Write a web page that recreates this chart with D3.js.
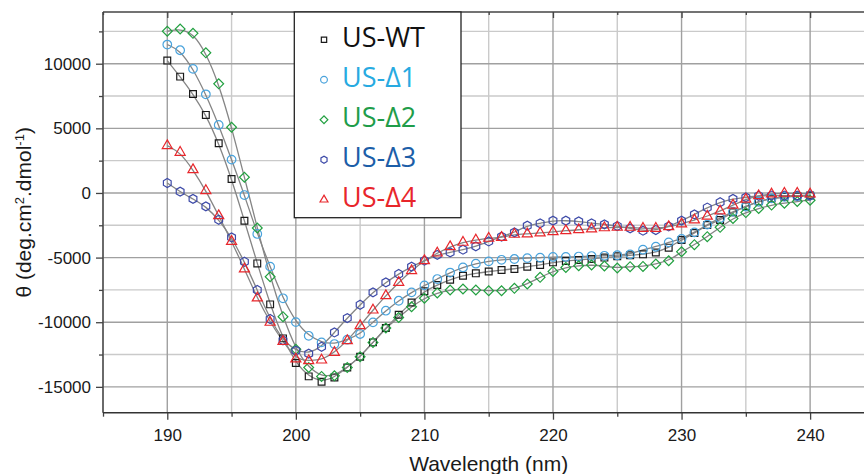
<!DOCTYPE html>
<html lang="en">
<head>
    <meta charset="UTF-8">
    <title>CD spectra</title>
    <script src="https://d3js.org/d3.v7.min.js"></script>
    <style>
        body { margin: 0; background: #fff; }
        svg { display: block; }
        .tick text { font-family: "Liberation Sans", Arial, sans-serif; font-size: 17px; fill: #1a1a1a; }
        .label { font-family: "Liberation Sans", Arial, sans-serif; font-size: 21px; fill: #1a1a1a; }
        .legend text { font-family: "Open Sans", "Noto Sans", sans-serif; font-size: 27px; }
    </style>
</head>
<body>
<svg width="864" height="474"></svg>
<script>
    // wavelength (nm) and ellipticity readings for each construct
    const wavelength = [190, 191, 192, 193, 194, 195, 196, 197, 198, 199,
        200, 201, 202, 203, 204, 205, 206, 207, 208, 209,
        210, 211, 212, 213, 214, 215, 216, 217, 218, 219,
        220, 221, 222, 223, 224, 225, 226, 227, 228, 229,
        230, 231, 232, 233, 234, 235, 236, 237, 238, 239, 240];

    const usWT = [10240, 9000, 7660, 6040, 3840, 1080, -2150, -5450, -8620, -11250,
        -13160, -14190, -14600, -14270, -13500, -12670, -11560, -10450, -9420, -8470,
        -7600, -7120, -6710, -6400, -6220, -6070, -5960, -5880, -5700, -5570,
        -5370, -5260, -5190, -5110, -5000, -4900, -4820, -4750, -4600, -4230,
        -3640, -3100, -2480, -2090, -1500, -1030, -650, -420, -300, -250, -200];

    const usD1 = [11480, 11040, 9600, 7630, 5260, 2580, -160, -3170, -5700, -8150,
        -9990, -11050, -11560, -11690, -11350, -10910, -10010, -9110, -8340, -7690,
        -7150, -6660, -6160, -5760, -5470, -5290, -5170, -5110, -5040, -5000,
        -4950, -4950, -4920, -4880, -4860, -4820, -4750, -4390, -4160, -3820,
        -3550, -3050, -2450, -1950, -1450, -1050, -680, -420, -300, -250, -200];

    const usD2 = [12510, 12690, 12350, 10840, 8440, 5080, 1210, -2710, -6480, -9570,
        -12100, -13500, -14190, -14140, -13500, -12670, -11560, -10450, -9630, -8800,
        -8140, -7730, -7510, -7430, -7510, -7560, -7560, -7380, -7040, -6530,
        -6070, -5760, -5630, -5570, -5650, -5800, -5700, -5680, -5500, -5240,
        -4550, -4000, -3380, -2660, -1970, -1520, -1200, -940, -790, -660, -560];

    const usD3 = [770, 100, -460, -1040, -2070, -3440, -5320, -7510, -9750, -11400,
        -12200, -12430, -11900, -10790, -9680, -8650, -7690, -6920, -6270, -5700,
        -5240, -4790, -4600, -4390, -4130, -3750, -3380, -3050, -2530, -2350,
        -2140, -2140, -2200, -2350, -2430, -2560, -2740, -2920, -2870, -2590,
        -2140, -1660, -1130, -720, -460, -340, -220, -200, -200, -200, -200];

    const usD4 = [3660, 3140, 1800, 180, -1760, -3750, -5880, -8130, -10010, -11490,
        -12850, -12980, -12930, -12340, -11430, -10270, -9060, -7950, -6920, -6010,
        -5240, -4650, -4160, -3820, -3640, -3510, -3440, -3200, -3170, -3100,
        -3000, -2920, -2840, -2790, -2700, -2660, -2660, -2740, -2740, -2610,
        -2400, -2090, -1800, -1400, -950, -480, -220, -80, -30, -30, -80];

    const seriesNames = ['US-WT', 'US-\u03941', 'US-\u03942', 'US-\u03943', 'US-\u03944'];
    const xTicks = [190, 200, 210, 220, 230, 240];
    const yTicks = [-15000, -10000, -5000, 0, 5000, 10000];

    const markerColor = ['#1a1a1a', '#4aa3dc', '#22a040', '#3d4aa8', '#e8262b'];
    const textColor = ['#111111', '#27aae1', '#1f9d4a', '#1c5ea8', '#e8262b'];

    const series = [usWT, usD1, usD2, usD3, usD4].map((vals, i) => ({
        name: seriesNames[i],
        points: vals.map((v, j) => ({ x: wavelength[j], y: v }))
    }));

    const svg = d3.select('svg');
    const W = 864;
    const pLeft = 103, pTop = 12, pRight = 874.4, pBottom = 412.7;

    const x = d3.scaleLinear().domain([185, 245]).range([pLeft, pRight]);
    const y = d3.scaleLinear().domain([-17000, 14000]).range([pBottom, pTop]);

    // grid: minor lines every 5 nm / 2500, major every 10 nm / 5000
    const grid = svg.append('g');
    const xMinor = d3.range(185, 246, 5).filter(v => v % 10 !== 0);
    const yMinor = d3.range(-17500, 14001, 2500).filter(v => v % 5000 !== 0 && v > -17000);
    grid.selectAll('.vmin').data(xMinor).enter().append('line')
        .attr('x1', d => x(d)).attr('x2', d => x(d)).attr('y1', pTop).attr('y2', pBottom)
        .attr('stroke', '#cacaca').attr('stroke-width', 1.4);
    grid.selectAll('.hmin').data(yMinor).enter().append('line')
        .attr('x1', pLeft).attr('x2', W).attr('y1', d => y(d)).attr('y2', d => y(d))
        .attr('stroke', '#cacaca').attr('stroke-width', 1.4);
    grid.selectAll('.vmaj').data(xTicks).enter().append('line')
        .attr('x1', d => x(d)).attr('x2', d => x(d)).attr('y1', pTop).attr('y2', pBottom)
        .attr('stroke', '#a0a0a0').attr('stroke-width', 1.4);
    grid.selectAll('.hmaj').data(yTicks).enter().append('line')
        .attr('x1', pLeft).attr('x2', W).attr('y1', d => y(d)).attr('y2', d => y(d))
        .attr('stroke', '#a0a0a0').attr('stroke-width', 1.4);

    // axes
    const axisStyle = g => {
        g.select('.domain').remove();
        g.selectAll('.tick line').attr('stroke', '#444').attr('stroke-width', 1.3);
    };
    svg.append('g').attr('transform', `translate(${pLeft},0)`)
        .call(d3.axisLeft(y).tickValues(yMinor).tickSize(4).tickFormat(''))
        .call(axisStyle);
    svg.append('g').attr('transform', `translate(${pLeft},0)`)
        .call(d3.axisLeft(y).tickValues(yTicks).tickSize(7).tickPadding(5).tickFormat(d => String(d)))
        .call(axisStyle);
    svg.append('g').attr('transform', `translate(0,${pBottom})`)
        .call(d3.axisBottom(x).tickValues(xMinor).tickSize(4).tickFormat(''))
        .call(axisStyle);
    svg.append('g').attr('transform', `translate(0,${pBottom})`)
        .call(d3.axisBottom(x).tickValues(xTicks).tickSize(7).tickPadding(9))
        .call(axisStyle);
    svg.append('g').attr('transform', `translate(0,${pTop})`)
        .call(d3.axisTop(x).tickValues(xTicks).tickSize(-6).tickFormat(''))
        .call(axisStyle);
    svg.append('g').attr('transform', `translate(0,${pTop})`)
        .call(d3.axisTop(x).tickValues(xMinor).tickSize(-3).tickFormat(''))
        .call(axisStyle);

    // frame
    svg.append('line').attr('x1', pLeft).attr('x2', pLeft).attr('y1', pTop).attr('y2', pBottom)
        .attr('stroke', '#444').attr('stroke-width', 1.5);
    svg.append('line').attr('x1', pLeft).attr('x2', W).attr('y1', pBottom).attr('y2', pBottom)
        .attr('stroke', '#333').attr('stroke-width', 1.5);
    svg.append('line').attr('x1', pLeft).attr('x2', W).attr('y1', pTop).attr('y2', pTop)
        .attr('stroke', '#444').attr('stroke-width', 1.5);

    // smoothed fit lines
    const line = d3.line().x(d => x(d.x)).y(d => y(d.y)).curve(d3.curveBasis);
    svg.append('g').selectAll('path').data(series).enter().append('path')
        .attr('d', d => line(d.points))
        .attr('fill', 'none').attr('stroke', '#858585').attr('stroke-width', 1.3);

    // markers
    const hexagon = {
        draw(ctx, size) {
            const r = Math.sqrt(size / 2.598);
            for (let k = 0; k < 6; k++) {
                const a = Math.PI / 6 + k * Math.PI / 3;
                if (k === 0) ctx.moveTo(r * Math.cos(a), r * Math.sin(a));
                else ctx.lineTo(r * Math.cos(a), r * Math.sin(a));
            }
            ctx.closePath();
        }
    };
    const shapes = [
        { type: d3.symbolSquare, size: 46, rot: 0 },
        { type: d3.symbolCircle, size: 58, rot: 0 },
        { type: d3.symbolSquare, size: 48, rot: 45 },
        { type: hexagon, size: 52, rot: 0 },
        { type: d3.symbolTriangle, size: 44, rot: 0 }
    ];

    series.forEach((s, i) => {
        const sym = d3.symbol().type(shapes[i].type).size(shapes[i].size);
        svg.append('g').selectAll('path').data(s.points).enter().append('path')
            .attr('d', sym)
            .attr('transform', d => `translate(${x(d.x)},${y(d.y)}) rotate(${shapes[i].rot})`)
            .attr('fill', 'none')
            .attr('stroke', markerColor[i])
            .attr('stroke-width', 1.2);
    });

    // legend
    const legend = svg.append('g').attr('class', 'legend');
    legend.append('rect')
        .attr('x', 294.3).attr('y', pTop).attr('width', 166.7).attr('height', 205.7)
        .attr('fill', '#fff').attr('stroke', '#222').attr('stroke-width', 1.3);
    seriesNames.forEach((name, i) => {
        const base = 46.7 + i * 40;
        const sym = d3.symbol().type(shapes[i].type).size(shapes[i].size * 0.62);
        legend.append('path')
            .attr('d', sym)
            .attr('transform', `translate(324,${base - 7}) rotate(${shapes[i].rot})`)
            .attr('fill', 'none').attr('stroke', markerColor[i]).attr('stroke-width', 1.2);
        legend.append('text')
            .attr('x', 342).attr('y', base)
            .attr('fill', textColor[i])
            .text(name);
    });

    // axis titles
    svg.append('text')
        .attr('class', 'label')
        .attr('x', (pLeft + pRight) / 2)
        .attr('y', 470.5)
        .attr('text-anchor', 'middle')
        .text('Wavelength (nm)');

    const yl = svg.append('text')
        .attr('class', 'label')
        .attr('transform', `translate(31,${(pTop + pBottom) / 2}) rotate(-90)`)
        .attr('text-anchor', 'middle');
    yl.append('tspan').text('\u03b8 (deg.cm');
    yl.append('tspan').attr('dy', -7).style('font-size', '13px').text('2');
    yl.append('tspan').attr('dy', 7).text('.dmol');
    yl.append('tspan').attr('dy', -7).style('font-size', '13px').text('-1');
    yl.append('tspan').attr('dy', 7).text(')');
</script>
</body>
</html>
